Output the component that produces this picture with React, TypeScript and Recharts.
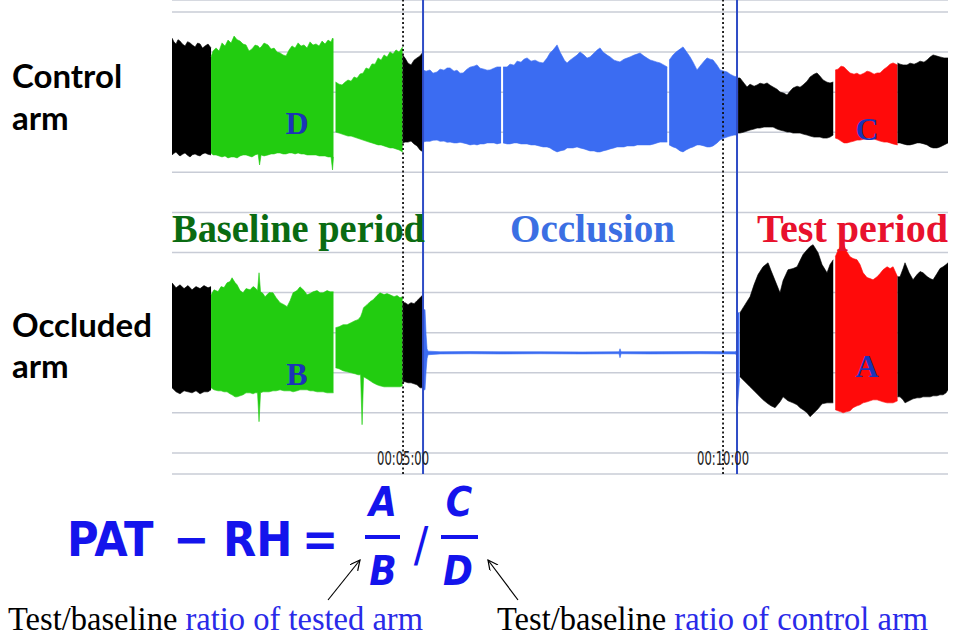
import React from 'react';
import { ComposedChart, Area, XAxis, YAxis, CartesianGrid, ReferenceLine } from 'recharts';

// [time in seconds, lower envelope, upper envelope] (amplitude in grid divisions)
type Row = [number, number, number];

// ---------- Control arm ----------
const ctrlBlack1: Row[] = [
  [83.4, -3.13, 2.7], [85.3, -3.05, 2.5], [87.2, -2.98, 2.41], [89.0, -3.1, 2.62], [90.9, -3.18, 2.55],
  [93.2, -3.1, 2.4], [95.6, -3.03, 2.31], [98.0, -3.15, 2.52], [100.3, -3.23, 2.46], [102.6, -3.12, 2.35],
  [105.0, -3.08, 2.26], [107.4, -3.15, 2.45], [109.7, -3.18, 2.41], [112.0, -3.08, 2.2], [114.4, -3.03, 2.31],
  [117.2, -3.1, 2.4], [120.0, -3.13, 2.21],
];
const ctrlGreen1: Row[] = [
  [120.0, -3.03, 1.76], [121.9, -3.13, 2.06], [124.7, -3.13, 2.21], [127.5, -3.18, 2.05], [130.3, -3.23, 2.46],
  [133.1, -3.18, 2.3], [135.9, -3.28, 2.6], [138.8, -3.23, 2.45], [141.6, -3.23, 2.8], [144.4, -3.28, 2.62],
  [147.2, -3.18, 2.55], [150.0, -3.13, 2.4], [152.8, -3.13, 2.36], [155.6, -3.18, 2.05], [158.4, -3.23, 2.16],
  [161.3, -3.13, 2.35], [164.1, -3.08, 2.31], [165.5, -3.63, 2.2], [166.9, -3.13, 2.25], [169.7, -3.18, 2.45],
  [173.4, -3.13, 2.36], [176.3, -3.08, 2.15], [179.1, -3.08, 2.2], [181.9, -3.03, 2.0], [184.7, -3.03, 1.96],
  [187.5, -3.08, 1.86], [190.3, -3.08, 1.81], [193.1, -3.03, 2.1], [195.9, -3.03, 2.31], [198.8, -3.08, 2.2],
  [201.6, -3.03, 2.46], [204.4, -3.08, 2.3], [207.2, -3.08, 2.36], [210.0, -3.13, 2.2], [212.8, -3.13, 2.51],
  [215.6, -3.13, 2.35], [218.4, -3.13, 2.41], [221.3, -3.18, 2.3], [224.1, -3.18, 2.55], [226.9, -3.18, 2.4],
  [229.7, -3.23, 2.6], [232.5, -3.23, 2.5], [233.9, -3.88, 2.7], [234.8, -3.23, 2.65],
];
const ctrlGreen2: Row[] = [
  [236.7, -1.99, 0.51], [240.0, -2.04, 0.4], [242.8, -2.09, 0.36], [245.6, -2.14, 0.5], [248.4, -2.19, 0.61],
  [251.3, -2.19, 0.55], [254.1, -2.24, 0.76], [256.9, -2.29, 0.7], [259.7, -2.34, 0.91], [262.5, -2.39, 0.95],
  [265.3, -2.44, 1.21], [268.1, -2.49, 1.15], [270.9, -2.53, 1.41], [273.8, -2.58, 1.4], [276.6, -2.63, 1.71],
  [279.4, -2.63, 1.6], [282.2, -2.68, 1.86], [285.0, -2.73, 1.75], [287.8, -2.78, 2.01], [290.6, -2.78, 1.9],
  [293.4, -2.83, 2.11], [296.3, -2.88, 2.0], [299.6, -2.98, 2.26],
];
const ctrlBlack2: Row[] = [
  [299.6, -2.53, 1.86], [301.9, -2.49, 1.7], [304.7, -2.49, 1.45], [307.5, -2.44, 1.36], [310.3, -2.58, 1.6],
  [313.1, -2.68, 1.71], [315.9, -2.88, 1.81], [318.75, -2.98, 2.01],
];
const ctrlBlue1: Row[] = [
  [318.75, -2.49, 1.11], [321.6, -2.45, 1.05], [325.3, -2.45, 1.11], [328.1, -2.4, 0.95], [331.9, -2.39, 1.01],
  [334.7, -2.45, 1.15], [338.4, -2.44, 1.1], [341.3, -2.5, 1.21], [344.1, -2.49, 1.21], [347.8, -2.53, 1.05],
  [350.6, -2.53, 1.1], [353.4, -2.5, 0.95], [356.3, -2.53, 0.96], [360.0, -2.58, 1.15], [362.8, -2.63, 1.25],
  [366.6, -2.6, 1.3], [369.4, -2.63, 1.36], [372.2, -2.58, 1.2], [375.9, -2.58, 1.15], [378.8, -2.53, 1.1],
  [381.6, -2.53, 1.11], [385.3, -2.53, 1.2], [388.1, -2.58, 1.26], [391.9, -2.53, 1.26],
];
const ctrlBlue2: Row[] = [
  [393.8, -2.53, 1.26], [397.5, -2.58, 1.26], [400.3, -2.58, 1.4], [404.1, -2.53, 1.35], [406.9, -2.53, 1.55],
  [410.6, -2.58, 1.5], [413.4, -2.58, 1.65], [416.3, -2.58, 1.71], [420.0, -2.63, 1.55], [423.8, -2.63, 1.6],
  [427.5, -2.68, 1.5], [431.3, -2.73, 1.46], [435.0, -2.73, 1.7], [437.8, -2.78, 1.96], [440.6, -2.88, 2.1],
  [444.4, -2.98, 2.36], [447.2, -2.93, 2.0], [451.3, -2.88, 1.6], [453.8, -2.78, 1.46], [456.6, -2.78, 1.6],
  [459.4, -2.78, 1.71], [463.1, -2.73, 1.85], [465.9, -2.78, 2.01], [469.7, -2.83, 1.85], [472.5, -2.88, 1.7],
  [475.3, -2.93, 1.76], [479.1, -2.93, 1.95], [481.9, -2.98, 2.1], [484.7, -2.98, 2.21], [487.5, -2.93, 2.0],
  [491.3, -2.88, 1.85], [494.1, -2.83, 1.76], [497.8, -2.78, 1.6], [500.6, -2.73, 1.55], [503.4, -2.73, 1.51],
  [507.2, -2.73, 1.65], [510.0, -2.68, 1.7], [512.8, -2.68, 1.76], [516.6, -2.68, 1.85], [519.4, -2.63, 1.9],
  [522.2, -2.63, 1.96], [525.9, -2.63, 1.8], [528.8, -2.63, 1.7], [531.6, -2.63, 1.61], [535.3, -2.58, 1.55],
  [538.1, -2.53, 1.5], [541.0, -2.49, 1.46], [544.7, -2.49, 1.35], [547.7, -2.49, 1.26],
];
const ctrlBlue3: Row[] = [
  [549.5, -2.63, 1.6], [553.1, -2.73, 1.86], [555.9, -2.78, 2.0], [559.7, -2.93, 2.15], [562.5, -2.98, 2.26],
  [565.3, -2.88, 2.05], [569.1, -2.78, 1.76], [571.9, -2.73, 1.5], [575.6, -2.63, 1.11], [578.4, -2.63, 1.3],
  [582.2, -2.68, 1.55], [585.0, -2.73, 1.71], [587.8, -2.73, 1.65], [590.6, -2.68, 1.61], [594.4, -2.53, 1.35],
  [597.2, -2.39, 1.11], [600.9, -2.29, 1.05], [603.8, -2.24, 1.01], [606.6, -2.19, 0.9], [610.3, -2.14, 0.8],
  [613.1, -2.14, 0.76],
];
const ctrlBlack3: Row[] = [
  [614.1, -2.04, 0.71], [615.9, -2.04, 0.71], [619.7, -1.99, 0.45], [622.5, -1.94, 0.26], [625.3, -1.89, 0.4],
  [629.1, -1.84, 0.3], [631.9, -1.79, 0.36], [634.7, -1.79, 0.45], [638.4, -1.74, 0.4], [641.3, -1.74, 0.46],
  [644.1, -1.74, 0.35], [646.9, -1.74, 0.26], [650.6, -1.84, 0.15], [653.4, -1.89, 0.01], [657.2, -1.94, -0.05],
  [660.0, -1.99, -0.14], [662.8, -1.99, 0.05], [665.6, -2.04, 0.21], [669.4, -2.04, 0.3], [672.2, -2.04, 0.25],
  [675.0, -2.09, 0.36], [678.8, -2.14, 0.55], [681.6, -2.19, 0.76], [685.3, -2.24, 0.9], [688.1, -2.24, 0.96],
  [690.9, -2.24, 0.8], [693.8, -2.29, 0.61], [697.5, -2.29, 0.5], [700.3, -2.24, 0.46], [703.3, -2.14, 0.51],
];
const ctrlRed: Row[] = [
  [705.2, -2.29, 1.11], [707.8, -2.34, 1.15], [710.6, -2.44, 1.3], [713.4, -2.53, 1.26], [716.3, -2.53, 1.1],
  [719.1, -2.49, 0.96], [722.8, -2.44, 0.9], [725.6, -2.39, 0.95], [728.4, -2.39, 0.86], [732.2, -2.34, 0.95],
  [735.0, -2.29, 1.05], [737.8, -2.29, 1.01], [741.6, -2.34, 0.9], [744.4, -2.39, 0.96], [747.2, -2.44, 0.96],
  [750.9, -2.49, 1.15], [753.8, -2.49, 1.26], [756.6, -2.53, 1.4], [759.4, -2.58, 1.46], [763.6, -2.63, 1.36],
];
const ctrlBlack4: Row[] = [
  [763.6, -2.53, 1.46], [765.9, -2.53, 1.4], [768.8, -2.58, 1.36], [772.5, -2.63, 1.36], [775.3, -2.63, 1.45],
  [779.1, -2.58, 1.4], [781.9, -2.53, 1.46], [784.7, -2.53, 1.55], [788.4, -2.58, 1.5], [791.3, -2.63, 1.61],
  [794.1, -2.73, 1.75], [796.9, -2.78, 1.86], [800.6, -2.78, 1.8], [803.4, -2.73, 1.76], [807.2, -2.63, 1.71],
  [810.9, -2.53, 1.71],
];

// ---------- Occluded arm ----------
const occBlack1: Row[] = [
  [83.4, -1.75, 3.49], [87.2, -1.95, 3.24], [90.9, -2.05, 3.39], [94.7, -1.9, 3.2], [98.4, -1.95, 3.35],
  [102.2, -2.0, 3.14], [105.9, -1.9, 3.3], [109.7, -2.05, 3.2], [113.4, -1.95, 3.35], [117.2, -1.95, 3.24],
  [120.0, -1.85, 3.3],
];
const occGreen1: Row[] = [
  [120.0, -1.75, 2.89], [122.8, -1.85, 3.14], [126.6, -1.9, 3.05], [129.4, -1.9, 3.3], [132.2, -1.95, 3.25],
  [135.0, -1.95, 3.49], [137.8, -2.05, 3.55], [139.7, -2.1, 3.74], [142.5, -2.2, 3.5], [144.4, -2.2, 3.39],
  [147.2, -2.15, 3.1], [150.0, -2.1, 2.99], [152.8, -2.0, 3.2], [156.6, -2.0, 3.14], [159.4, -2.05, 3.3],
  [161.3, -2.0, 3.24], [163.6, -2.0, 3.1], [165.0, -3.44, 3.99], [166.4, -2.0, 3.05], [168.8, -1.95, 2.95],
  [170.6, -1.95, 2.79], [174.4, -1.95, 3.0], [178.1, -1.9, 2.99], [181.0, -1.9, 2.75], [184.7, -1.85, 2.5],
  [188.4, -1.9, 2.4], [191.3, -1.9, 2.3], [194.1, -1.9, 2.6], [196.9, -1.95, 2.99], [200.6, -1.9, 3.1],
  [203.4, -1.85, 3.29], [207.2, -1.85, 3.1], [210.0, -1.85, 2.89], [212.8, -1.9, 2.95], [215.6, -1.9, 3.04],
  [219.4, -1.95, 3.1], [222.2, -1.95, 2.99], [225.0, -1.95, 2.99], [228.8, -2.0, 3.1], [231.6, -2.0, 3.04],
  [234.8, -2.0, 3.04],
];
const occGreen2: Row[] = [
  [236.7, -0.75, 1.25], [240.0, -0.8, 1.3], [243.8, -0.9, 1.4], [247.5, -0.95, 1.4], [251.3, -1.0, 1.5],
  [255.0, -1.05, 1.6], [257.8, -1.1, 1.65], [260.2, -1.1, 1.8], [261.6, -3.59, 2.0], [263.0, -1.2, 2.25],
  [266.3, -1.3, 2.4], [269.1, -1.4, 2.55], [271.9, -1.5, 2.64], [275.6, -1.6, 2.85], [278.4, -1.65, 2.99],
  [282.2, -1.7, 2.9], [285.0, -1.7, 2.95], [287.8, -1.7, 2.89], [291.6, -1.7, 2.8], [294.4, -1.7, 2.85],
  [297.2, -1.7, 2.74], [299.6, -1.65, 2.8],
];
const occBlack2: Row[] = [
  [299.6, -1.45, 2.5], [301.9, -1.45, 2.5], [304.7, -1.5, 2.4], [307.5, -1.5, 2.5], [310.3, -1.55, 2.45],
  [313.1, -1.6, 2.6], [315.9, -1.75, 2.74], [318.75, -1.75, 2.9],
];
const occBlue: Row[] = [
  [319.2, -1.85, 2.15], [320.6, -1.85, 2.15], [321.6, -0.9, 0.9], [322.5, -0.3, 0.2], [323.4, -0.1, 0.08],
  [334.7, -0.06, 0.05], [362.8, -0.05, 0.06], [391.0, -0.06, 0.05], [428.4, -0.05, 0.05], [467.8, -0.06, 0.04],
  [502.5, -0.05, 0.05], [503.4, -0.25, 0.2], [504.4, -0.05, 0.05], [531.6, -0.06, 0.05], [578.4, -0.05, 0.06],
  [611.3, -0.06, 0.05], [612.7, -0.1, 0.1], [613.6, -2.69, 2.0], [615.5, -1.3, 2.0],
];
const occBlack3: Row[] = [
  [615.9, -1.2, 2.0], [620.6, -1.45, 2.4], [625.3, -1.7, 2.79], [629.1, -1.9, 3.4], [632.8, -2.1, 3.9],
  [637.5, -2.35, 4.29], [642.2, -2.55, 4.49], [645.0, -2.65, 4.1], [648.8, -2.74, 3.6], [653.4, -2.45, 2.99],
  [656.3, -2.2, 3.6], [660.9, -2.4, 4.14], [665.6, -2.5, 4.2], [669.4, -2.6, 4.29], [672.2, -2.75, 4.6],
  [675.0, -2.84, 4.9], [678.8, -3.0, 5.14], [681.6, -3.19, 5.3], [684.4, -3.05, 5.39], [689.1, -2.8, 4.99],
  [692.8, -2.55, 4.4], [697.5, -2.5, 3.99], [700.3, -2.5, 4.4], [703.3, -2.5, 4.64],
];
const occRed: Row[] = [
  [705.2, -2.84, 4.79], [707.8, -2.9, 5.1], [710.6, -2.95, 5.35], [712.5, -3.0, 5.49], [715.3, -2.95, 5.1],
  [719.1, -2.9, 4.79], [721.9, -2.74, 4.7], [725.6, -2.65, 4.64], [728.4, -2.6, 4.4], [731.3, -2.5, 3.99],
  [735.0, -2.45, 3.75], [737.8, -2.4, 3.7], [740.6, -2.35, 3.64], [744.4, -2.35, 3.79], [747.2, -2.4, 3.95],
  [750.0, -2.45, 4.14], [753.8, -2.5, 4.29], [756.6, -2.5, 4.2], [759.4, -2.5, 4.29], [763.6, -2.4, 3.79],
];
const occBlack4: Row[] = [
  [763.6, -2.2, 3.79], [765.9, -2.2, 3.79], [768.8, -2.35, 4.2], [770.6, -2.5, 4.49], [774.4, -2.4, 4.0],
  [778.1, -2.3, 3.64], [781.9, -2.25, 3.9], [784.7, -2.25, 4.05], [787.5, -2.2, 3.99], [791.3, -2.2, 3.8],
  [794.1, -2.2, 3.7], [796.9, -2.15, 3.64], [800.6, -2.15, 3.95], [803.4, -2.1, 4.2], [806.3, -2.1, 4.29],
  [809.1, -2.0, 4.4], [810.9, -1.85, 4.49],
];

// ---------- axis / markers ----------
const timeTicks = [300, 600];
const timeTickLabels = ['00:05:00', '00:10:00'];
const periodMarkers = [300, 600]; // dotted
const occlusionBounds = [318.75, 613.1]; // solid blue
const gridLevels = [0, 1, 2, 3, 4, 5, 6, 7, 8, 9, 10, 12, 13, 14, 15, 16, 17, 18, 19, 20, 21, 22];

const CTRL_OFFSET = 18;
const OCC_OFFSET = 5;

const BLACK = '#000000';
const GREEN = '#22cc10';
const BLUE = '#3b6cf2';
const RED = '#ff0a0a';

const build = (rows: Row[], off: number) => rows.map(([t, lo, hi]) => ({ t, v: [off + lo, off + hi] }));

const segments = [
  { id: 'cb1', rows: ctrlBlack1, off: CTRL_OFFSET, color: BLACK },
  { id: 'cg1', rows: ctrlGreen1, off: CTRL_OFFSET, color: GREEN },
  { id: 'cg2', rows: ctrlGreen2, off: CTRL_OFFSET, color: GREEN },
  { id: 'cb2', rows: ctrlBlack2, off: CTRL_OFFSET, color: BLACK },
  { id: 'cu1', rows: ctrlBlue1, off: CTRL_OFFSET, color: BLUE },
  { id: 'cu2', rows: ctrlBlue2, off: CTRL_OFFSET, color: BLUE },
  { id: 'cu3', rows: ctrlBlue3, off: CTRL_OFFSET, color: BLUE },
  { id: 'cb3', rows: ctrlBlack3, off: CTRL_OFFSET, color: BLACK },
  { id: 'cr', rows: ctrlRed, off: CTRL_OFFSET, color: RED },
  { id: 'cb4', rows: ctrlBlack4, off: CTRL_OFFSET, color: BLACK },
  { id: 'ob1', rows: occBlack1, off: OCC_OFFSET, color: BLACK },
  { id: 'og1', rows: occGreen1, off: OCC_OFFSET, color: GREEN },
  { id: 'og2', rows: occGreen2, off: OCC_OFFSET, color: GREEN },
  { id: 'ob2', rows: occBlack2, off: OCC_OFFSET, color: BLACK },
  { id: 'ou', rows: occBlue, off: OCC_OFFSET, color: BLUE },
  { id: 'ob3', rows: occBlack3, off: OCC_OFFSET, color: BLACK },
  { id: 'or', rows: occRed, off: OCC_OFFSET, color: RED },
  { id: 'ob4', rows: occBlack4, off: OCC_OFFSET, color: BLACK },
];

const TimeTick = (props: any) => {
  const { x, y, payload } = props;
  const i = timeTicks.indexOf(payload.value);
  return (
    <text x={x} y={y - 9} textAnchor="middle" fontFamily="'Liberation Sans Narrow', 'DejaVu Sans Condensed', sans-serif"
      fontSize={19} fill="#222" textLength={52} lengthAdjust="spacingAndGlyphs">{i >= 0 ? timeTickLabels[i] : ''}</text>
  );
};

const SERIF = "'Liberation Serif', 'Times New Roman', serif";
const SANS_B = "Lato, 'Open Sans', sans-serif";
const MATH = "'DejaVu Sans Condensed', 'DejaVu Sans', sans-serif";
const FBLUE = '#1414ec';
const LETTER = '#1b34b8';

export default function App() {
  return (
    <div style={{ position: 'absolute', left: 0, top: 0, width: 953, height: 639, background: '#fff', overflow: 'hidden' }}>
      <ComposedChart width={953} height={639} margin={{ top: 0, right: 5, bottom: 0, left: 172 }}>
        <CartesianGrid vertical={false} stroke="#c8ccd6" strokeWidth={1.5} />
        <XAxis dataKey="t" type="number" domain={[83.4, 810.9]} allowDataOverflow ticks={timeTicks}
          axisLine={false} tickLine={false} tickSize={0} tickMargin={0} height={165} tick={<TimeTick />} interval={0} />
        <YAxis type="number" domain={[-1.05, 22.6]} allowDataOverflow ticks={gridLevels} hide width={0} />
        {segments.map((s) => (
          <Area key={s.id} data={build(s.rows, s.off)} dataKey="v" type="linear" stroke={s.color} strokeWidth={0.6}
            fill={s.color} fillOpacity={1} isAnimationActive={false} dot={false} activeDot={false} />
        ))}
        {periodMarkers.map((x) => (
          <ReferenceLine key={'p' + x} x={x} stroke="#111" strokeWidth={1.8} strokeDasharray="2 2.5" />
        ))}
        {occlusionBounds.map((x) => (
          <ReferenceLine key={'o' + x} x={x} stroke="#2f4cc6" strokeWidth={2} />
        ))}
      </ComposedChart>
      <svg width={953} height={639} style={{ position: 'absolute', left: 0, top: 0, pointerEvents: 'none' }}>
        <defs>
          <marker id="ah" markerWidth={12} markerHeight={12} refX={10} refY={5} orient="auto" markerUnits="userSpaceOnUse">
            <path d="M0,0 L10,5 L0,10" fill="none" stroke="#000" strokeWidth={1.2} />
          </marker>
        </defs>
        <g fontFamily={SANS_B} fontWeight={700} fontSize={33} fill="#000">
          <text x={12} y={88}>Control</text>
          <text x={12} y={130}>arm</text>
          <text x={12} y={337}>Occluded</text>
          <text x={12} y={378}>arm</text>
        </g>
        <g fontFamily={SERIF} fontWeight={700} fontSize={39}>
          <text x={172} y={242} fill="#0a6b12" textLength={253} lengthAdjust="spacingAndGlyphs">Baseline period</text>
          <text x={510} y={242} fill="#3b6fe3" textLength={165} lengthAdjust="spacingAndGlyphs">Occlusion</text>
          <text x={757} y={242} fill="#e8112d" textLength={191} lengthAdjust="spacingAndGlyphs">Test period</text>
        </g>
        <g fontFamily={SERIF} fontWeight={700} fontSize={32} fill={LETTER} textAnchor="middle">
          <text x={297} y={134}>D</text>
          <text x={867} y={140}>C</text>
          <text x={297} y={385}>B</text>
          <text x={867} y={377}>A</text>
        </g>
        <g fontFamily={MATH} fontWeight={700} fill={FBLUE}>
          <text x={67} y={556} fontSize={48}>PAT</text>
          <text x={191} y={556} fontSize={48} textAnchor="middle">−</text>
          <text x={223} y={556} fontSize={48}>RH</text>
          <text x={320} y={556} fontSize={48} textAnchor="middle">=</text>
          <g fontStyle="italic" fontSize={40} textAnchor="middle">
            <text x={383} y={516}>A</text>
            <text x={383} y={585}>B</text>
            <text x={459} y={516}>C</text>
            <text x={458} y={585}>D</text>
          </g>
          <rect x={365} y={535} width={35} height={4} />
          <rect x={441} y={535} width={37} height={4} />
          <text x={421} y={561} fontSize={48} textAnchor="middle" fontWeight={400}>/</text>
        </g>
        <line x1={328} y1={600} x2={360} y2={560} stroke="#000" strokeWidth={1.2} markerEnd="url(#ah)" />
        <line x1={518} y1={600} x2={488} y2={560} stroke="#000" strokeWidth={1.2} markerEnd="url(#ah)" />
        <g fontFamily={SERIF} fontSize={33}>
          <text x={8} y={630} textLength={415} lengthAdjust="spacingAndGlyphs"><tspan fill="#000">Test/baseline </tspan><tspan fill="#2a2ae8">ratio of tested arm</tspan></text>
          <text x={497} y={630} textLength={431} lengthAdjust="spacingAndGlyphs"><tspan fill="#000">Test/baseline </tspan><tspan fill="#2a2ae8">ratio of control arm</tspan></text>
        </g>
      </svg>
    </div>
  );
}
